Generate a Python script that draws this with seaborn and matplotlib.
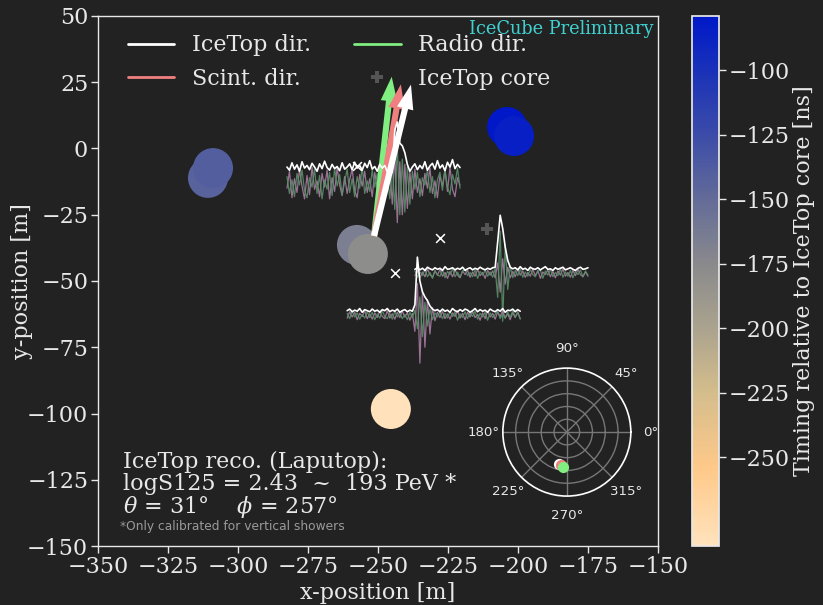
import numpy as np
import pandas as pd
import matplotlib
matplotlib.use("Agg")
import matplotlib.pyplot as plt
from matplotlib.colors import LinearSegmentedColormap, Normalize
from matplotlib.cm import ScalarMappable
from matplotlib.lines import Line2D
import seaborn as sns

# ---------------- data ----------------
# Scintillator stations: position [m] and hit time relative to IceTop core [ns]
station_x = [-310.7, -308.9, -203.9, -201.4, -257.5, -253.6, -245.4]
station_y = [-11.1, -7.4, 8.1, 4.7, -36.4, -39.8, -98.3]
station_t = [-143.0, -140.0, -79.0, -85.0, -166.0, -178.0, -284.5]

# Radio antennas
antenna_x = [-257.5, -227.9, -243.9]
antenna_y = [-6.6, -33.8, -47.0]

# IceTop core
core_x = [-211.0]
core_y = [-30.4]

# Reconstructed directions: IceTop, Scintillators, Radio
dir_labels = ["IceTop dir.", "Scint. dir.", "Radio dir."]
dir_zenith = [31.0, 31.5, 33.4]
dir_azimuth = [257.0, 260.5, 264.0]
arrow_length = [58.6, 58.0, 60.4]
arrow_origin = (-251.4, -33.0)

# Radio waveforms (arbitrary amplitude units): envelope, polarisation 1, polarisation 2
trace_env = [
    [30, 24, 38, 26, 34, 22, 40, 28, 33, 25, 37, 30, 22, 36, 27, 41, 29, 24, 35, 27,
     31, 23, 38, 26, 30, 36, 25, 39, 28, 33, 24, 37, 29, 42, 26, 31, 22, 35, 28, 33,
     21, 24, 20, 100, 115, 75, 70, 57, 35, 22, 30, 36, 25, 33, 27, 40, 24, 32, 37, 26,
     42, 28, 34, 23, 39, 30, 44, 27, 35, 29],
    [8, 11, 7, 10, 6, 12, 9, 7, 11, 8, 10, 6, 13, 8, 9, 11, 7, 10, 8, 12,
     6, 9, 11, 7, 10, 8, 12, 9, 7, 10, 8, 11, 12, 60, 110, 85, 50, 25, 12, 9,
     11, 7, 13, 8, 10, 6, 12, 9, 8, 11, 7, 10, 13, 8, 9, 6, 11, 8, 10, 12,
     7, 9, 11, 8, 6, 10, 12, 8, 9, 11],
    [9, 12, 7, 10, 8, 13, 6, 11, 9, 7, 12, 8, 10, 6, 11, 9, 13, 7, 10, 8,
     12, 6, 9, 11, 7, 10, 8, 20, 110, 65, 45, 35, 28, 18, 12, 9, 11, 7, 12, 8,
     10, 6, 13, 9, 7, 11, 8, 12, 10, 6, 9, 13, 7, 11, 8, 10, 6, 12, 9, 7,
     11, 8, 13, 6, 10, 9, 12, 7, 11, 8],
]
trace_pol1 = [
    [-10, 22, -28, 8, -18, 26, -6, -30, 14, -22, 30, -12, 4, -26, 18, -8, 24, -30, 10, -16,
     28, -4, -24, 12, -20, 6, 26, -14, -28, 16, -6, 22, -18, 8, -26, 20, -10, 28, -22, 2,
     -14, 30, -40, 55, -75, 40, -60, 35, -48, 20, -30, 26, -18, 8, -24, 18, -10, 28, -20, 4,
     -28, 14, -6, 24, -16, 30, -12, -26, 10, -4],
    [-4, 6, -8, 3, -6, 9, -2, -7, 5, -3, 8, -5, 2, -9, 4, -6, 7, -3, -8, 5,
     -2, 6, -7, 3, -5, 8, -4, 2, -9, 6, -3, 5, -8, 20, -35, 28, -20, 12, -8, 4,
     -6, 9, -3, 5, -7, 2, -5, 8, -4, 6, -9, 3, -2, 7, -6, 4, -8, 5, -3, 9,
     -5, 2, -7, 6, -4, 8, -2, -6, 3, -5],
    [-5, 7, -3, 6, -8, 4, -2, 9, -6, 3, -7, 5, -4, 8, -2, -6, 9, -5, 3, -7,
     6, -4, 8, -3, 5, -9, 4, -30, 60, -90, 45, -60, 30, -35, 15, -10, 6, -4, 8, -6,
     3, -7, 5, -2, 9, -5, 4, -8, 6, -3, 7, -4, 2, -9, 5, -6, 8, -3, 4, -7,
     6, -2, 9, -5, 3, -8, 5, -4, 7, -6],
]
trace_pol2 = [
    [12, -20, 6, -26, 18, -4, 24, -14, -28, 10, -8, 26, -20, 14, -30, 6, -12, 20, -24, 28,
     -6, 16, -22, 2, 26, -18, 8, -26, 12, -10, 30, -20, 4, -16, 24, -8, 18, -28, 6, -22,
     14, -30, 35, -50, 70, -60, 45, -55, 30, -40, 22, -12, 20, -26, 10, -4, 24, -18, 12, -28,
     6, 20, -14, 26, -8, -22, 16, -2, 28, -10],
    [5, -7, 3, -4, 8, -6, 2, -9, 6, -3, -5, 7, -8, 4, -2, 9, -6, 3, -7, 5,
     8, -4, 2, -6, 7, -9, 4, -3, 6, -5, 3, -7, 10, -45, 80, -90, 55, -30, 15, -8,
     6, -4, 9, -7, 3, -5, 8, -2, -6, 4, 7, -9, 5, -3, 8, -6, 2, -4, 9, -7,
     3, -5, 6, -8, 4, -2, 7, -6, 5, -3],
    [4, -6, 8, -3, 5, -7, 2, -5, 7, -4, 6, -8, 3, -5, 9, -2, -6, 4, -7, 8,
     -3, 5, -6, 2, -8, 6, -4, 10, -25, 35, -40, 25, -20, 12, -8, 5, -3, 7, -6, 4,
     -5, 8, -2, 6, -9, 3, -4, 7, -6, 5, -2, 8, -7, 4, -3, 6, -9, 5, -4, 2,
     8, -6, 3, -5, 7, -4, 9, -3, 5, -7],
]
# where each waveform is drawn on the map
trace_x0 = [-282.5, -236.8, -261.0]
trace_y0 = [-13.0, -47.2, -63.0]
trace_span = 61.8
trace_scale = 0.2

x_ticks = list(range(-350, -149, 25))
y_ticks = list(range(-150, 51, 25))
cbar_ticks = [-250, -225, -200, -175, -150, -125, -100]

# ---------------- style ----------------
BG = "#222222"
FG = "#e8e8e8"
FS = 16
sns.set_theme(style="ticks", rc={
    "axes.facecolor": BG, "figure.facecolor": BG, "axes.edgecolor": FG,
    "text.color": FG, "axes.labelcolor": FG, "xtick.color": FG, "ytick.color": FG,
    "axes.grid": False,
})
plt.rcParams["font.family"] = ["DejaVu Serif"]
plt.rcParams["mathtext.fontset"] = "dejavuserif"

cmap = LinearSegmentedColormap.from_list("timing", [
    (0.0, "#ffe2bc"), (0.144, "#ffc98a"), (0.289, "#d4bd8c"), (0.41, "#aba38e"),
    (0.53, "#8a8a8c"), (0.653, "#646c98"), (0.775, "#3c4ca8"), (0.896, "#1a32b8"),
    (1.0, "#0018c8"),
])
norm = Normalize(min(station_t), max(station_t))

fig = plt.figure(figsize=(8.23, 6.05), dpi=100, facecolor=BG)
ax = fig.add_axes([0.119, 0.0975, 0.6805, 0.8761])
ax.set_facecolor(BG)

# stations coloured by timing
stations = pd.DataFrame({"x": station_x, "y": station_y, "t": station_t})
sns.scatterplot(data=stations, x="x", y="y", hue="t", palette=cmap, hue_norm=norm,
                s=830, linewidth=0, legend=False, ax=ax, zorder=2)

# waveforms
for k in range(len(trace_env)):
    n = len(trace_env[k])
    xs = trace_x0[k] + np.linspace(0, trace_span, n)
    ax.plot(xs, trace_y0[k] + trace_scale * np.array(trace_pol1[k]),
            color="#a87ca2", lw=0.9, alpha=0.9, zorder=3)
    ax.plot(xs, trace_y0[k] + trace_scale * np.array(trace_pol2[k]),
            color="#5a8e68", lw=0.9, alpha=0.9, zorder=3)
    ax.plot(xs, trace_y0[k] + trace_scale * np.array(trace_env[k]),
            color="white", lw=1.2, zorder=6)

# antennas and core
ax.scatter(antenna_x, antenna_y, marker="x", color="white", s=40, linewidths=1.1, zorder=4)
ax.scatter(core_x, core_y, marker="P", color="#555555", s=70, linewidths=0, zorder=4)

# direction arrows (drawn back to front: radio, scint, IceTop)
dir_colors = ["white", "#f08080", "#80ee80"]
for i in [2, 1, 0]:
    a = np.deg2rad(dir_azimuth[i] - 180.0)
    tip = (arrow_origin[0] + arrow_length[i] * np.cos(a),
           arrow_origin[1] + arrow_length[i] * np.sin(a))
    ax.annotate("", xy=tip, xytext=arrow_origin, zorder=5,
                arrowprops=dict(arrowstyle="simple,head_length=2.2,head_width=1.5,tail_width=0.55",
                                fc=dir_colors[i], ec="none", mutation_scale=8,
                                shrinkA=0, shrinkB=0))

ax.set_xlim(-350, -150)
ax.set_ylim(-150, 50)
ax.set_xticks(x_ticks)
ax.set_yticks(y_ticks)
ax.tick_params(colors=FG, labelsize=FS, length=5, width=1, direction="out",
               bottom=True, left=True, pad=2)
for s in ax.spines.values():
    s.set_color(FG)
    s.set_linewidth(1)
ax.set_xlabel("x-position [m]", fontsize=FS, labelpad=3)
ax.set_ylabel("y-position [m]", fontsize=FS, labelpad=-4)

handles = [Line2D([], [], color=dir_colors[0], lw=2),
           Line2D([], [], color=dir_colors[1], lw=2),
           Line2D([], [], color=dir_colors[2], lw=2),
           Line2D([], [], ls="none", marker="P", color="#555555", ms=8, mew=0)]
labels = [dir_labels[0], dir_labels[1], dir_labels[2], "IceTop core"]
ax.legend(handles, labels, ncol=2, loc="upper left", frameon=False, fontsize=FS,
          handlelength=2.1, columnspacing=1.95, labelspacing=0.5, handletextpad=0.77,
          borderaxespad=0, labelcolor=FG, bbox_to_anchor=(0.0375, 0.982))

ax.text(0.992, 0.993, "IceCube Preliminary", transform=ax.transAxes, ha="right",
        va="top", fontsize=12.8, color="#40d0d0")

ax.text(0.045, 0.147, "IceTop reco. (Laputop):", transform=ax.transAxes,
        va="baseline", fontsize=FS, color=FG)
ax.text(0.045, 0.106, "logS125 = 2.43  ~  193 PeV *", transform=ax.transAxes,
        va="baseline", fontsize=FS, color=FG)
ax.text(0.045, 0.062, r"$\theta$ = 31°    $\phi$ = 257°", transform=ax.transAxes,
        va="baseline", fontsize=FS, color=FG)
ax.text(0.040, 0.030, "*Only calibrated for vertical showers", transform=ax.transAxes,
        va="baseline", fontsize=8.8, color="#9a9a9a", family=["DejaVu Sans"])

# colour bar
cax = fig.add_axes([0.841, 0.0975, 0.0328, 0.8761])
cb = fig.colorbar(ScalarMappable(norm=norm, cmap=cmap), cax=cax)
cb.set_ticks(cbar_ticks)
cb.outline.set_edgecolor(FG)
cax.tick_params(colors=FG, labelsize=FS, length=5, width=1, pad=2)
cb.set_label("Timing relative to IceTop core [ns]", fontsize=FS, color=FG, labelpad=2)

# sky map of reconstructed directions
pax = fig.add_axes([0.611, 0.180, 0.1555, 0.2116], projection="polar")
pax.set_facecolor(BG)
pax.set_ylim(0, 1)
pax.set_yticks([0.2, 0.4, 0.6, 0.8])
pax.set_yticklabels([])
pax.set_thetagrids(list(range(0, 360, 45)), [f"{a}°" for a in range(0, 360, 45)],
                   fontsize=9.6, color=FG, family=["DejaVu Sans"])
pax.tick_params(axis="x", pad=1)
pax.grid(True, color="#777777", lw=1)
pax.spines["polar"].set_color("white")
pax.spines["polar"].set_linewidth(1.2)
for i in range(3):
    pax.scatter(np.deg2rad(dir_azimuth[i]), np.sin(np.deg2rad(dir_zenith[i])),
                s=65, color=dir_colors[i], linewidths=0, zorder=3)

fig.savefig("out.png", dpi=100, facecolor=BG)
